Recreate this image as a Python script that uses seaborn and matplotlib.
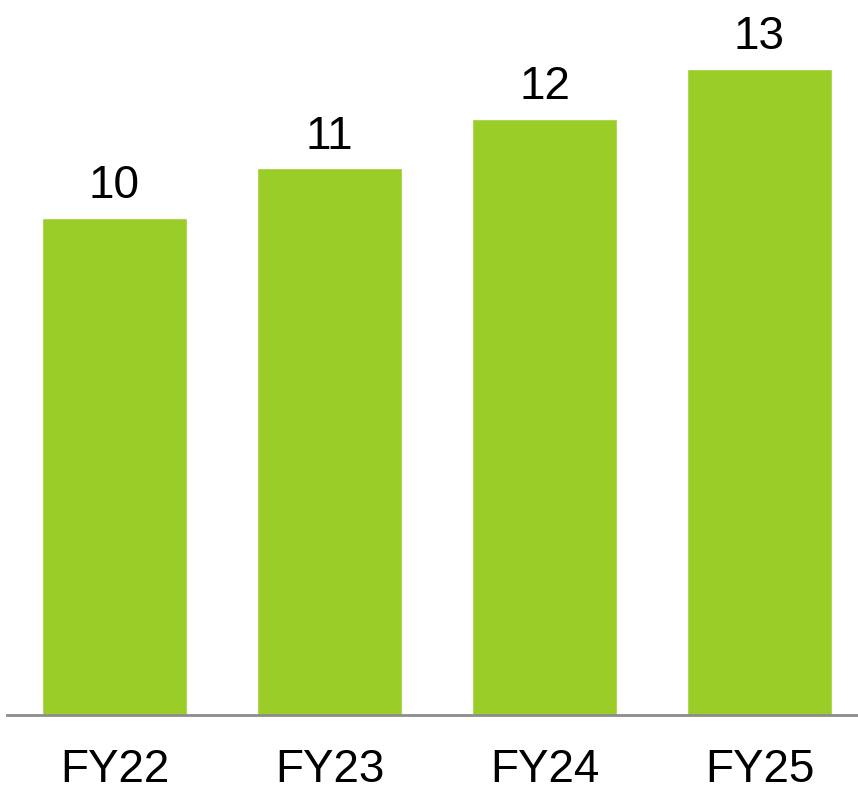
import pandas as pd
import numpy as np
import matplotlib
matplotlib.use("Agg")
import matplotlib.pyplot as plt
import seaborn as sns

sns.set_theme(style="white")
plt.rcParams['font.family'] = ['Liberation Sans', 'DejaVu Sans']

# data
years = ["FY22", "FY23", "FY24", "FY25"]
values = [10, 11, 12, 13]

df = pd.DataFrame({"year": years, "value": values})

fig = plt.figure(figsize=(8.58, 7.88), dpi=100)
# axes placed in pixel terms: left 7px, baseline at 715px from top
ax = fig.add_axes([7 / 858, (788 - 715) / 788, 851 / 858, 715 / 788])

sns.barplot(data=df, x="year", y="value", color="#9acd27", saturation=1,
            width=0.674, ax=ax)

ax.set_xlim(-0.5, -0.5 + 851 / 215)
ax.set_ylim(0, 14.39)

# value labels on top of bars
for i, v in enumerate(values):
    ax.annotate(str(v), (i, v), xytext=(0, 7), textcoords="offset points",
                ha="center", va="bottom", fontsize=33, color="black")

for s in ["top", "right", "left"]:
    ax.spines[s].set_visible(False)
ax.spines["bottom"].set_color("#8c8c8c")
ax.spines["bottom"].set_linewidth(2)
ax.set_yticks([])
ax.tick_params(axis="x", length=0, labelsize=33, pad=24, colors="black")
ax.set_xlabel("")
ax.set_ylabel("")

fig.savefig("out.png", dpi=100)
